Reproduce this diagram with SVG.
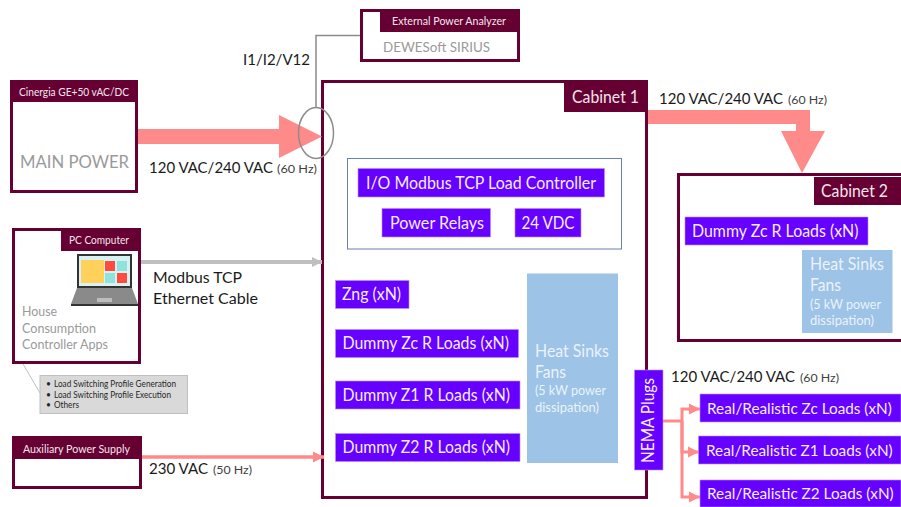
<svg xmlns="http://www.w3.org/2000/svg" width="901" height="507" viewBox="0 0 901 507">
<defs>
<marker id="pk" markerUnits="userSpaceOnUse" markerWidth="12" markerHeight="12" refX="11" refY="6" orient="auto"><path d="M0 0.500L11 6L0 11.500Z" fill="#ff8a8a"/></marker>
<marker id="gy" markerUnits="userSpaceOnUse" markerWidth="11" markerHeight="12" refX="10" refY="6" orient="auto"><path d="M0 1L10 6L0 11Z" fill="#bfbfbf"/></marker>
</defs>
<style>
text{font-family:Lato,"Liberation Sans",sans-serif}
.box{fill:#fff;stroke:#660033;stroke-width:3}
.hd{fill:#660033}
.ht{fill:#f2e6ec}
.p{fill:#6600ff;stroke:#b78cff;stroke-width:.6}
.pt{fill:#f4ecff;font-size:16.5px}
.rt{fill:#f4ecff;font-size:15.3px}
.b{fill:#1a1a1a;font-size:15.5px}
.s{fill:#404040;font-size:12px}
.g{fill:#9a9a9a}
.h{fill:#9dc3e6}
.ft{fill:#eaf2fa}
</style>
<rect width="901" height="507" fill="#fff"/>

<g id="cabinet1">
<rect class="box" x="322.500" y="81.500" width="324" height="416"/>
<rect class="hd" x="564" y="83" width="81" height="29"/>
<text class="ht" x="572" y="103" font-size="16.500" textLength="67" lengthAdjust="spacingAndGlyphs">Cabinet 1</text>
</g>
<g id="controller-frame"><rect x="347.500" y="158.500" width="274" height="90.500" fill="#fff" stroke="#6a80b0" stroke-width="1"/></g>
<g id="io-controller"><rect class="p" x="358" y="168.500" width="246.500" height="28.500"/><text class="pt" x="366" y="188.500" textLength="230" lengthAdjust="spacingAndGlyphs">I/O Modbus TCP Load Controller</text></g>
<g id="power-relays"><rect class="p" x="382" y="208.500" width="108.500" height="28.500"/><text class="pt" x="390" y="228.500" textLength="94" lengthAdjust="spacingAndGlyphs">Power Relays</text></g>
<g id="vdc24"><rect class="p" x="515" y="208.500" width="66" height="28.500"/><text class="pt" x="521.500" y="228.500" textLength="53" lengthAdjust="spacingAndGlyphs">24 VDC</text></g>
<g id="zng"><rect class="p" x="335.500" y="280.500" width="73.500" height="28"/><text class="pt" x="342" y="300" textLength="59" lengthAdjust="spacingAndGlyphs">Zng (xN)</text></g>
<g id="dummy-zc"><rect class="p" x="335.500" y="329.500" width="183" height="28"/><text class="pt" x="342.500" y="349" textLength="166.500" lengthAdjust="spacingAndGlyphs">Dummy Zc R Loads (xN)</text></g>
<g id="dummy-z1"><rect class="p" x="335.500" y="381" width="184.500" height="28"/><text class="pt" x="342.500" y="401" textLength="167.500" lengthAdjust="spacingAndGlyphs">Dummy Z1 R Loads (xN)</text></g>
<g id="dummy-z2"><rect class="p" x="335.500" y="433.500" width="184.500" height="28"/><text class="pt" x="342.500" y="453" textLength="167.500" lengthAdjust="spacingAndGlyphs">Dummy Z2 R Loads (xN)</text></g>
<g id="heat1"><rect class="h" x="527" y="273.500" width="91" height="189.500"/>
<text class="ft" x="535" y="357" font-size="16.500" textLength="74" lengthAdjust="spacingAndGlyphs">Heat Sinks</text><text class="ft" x="535" y="378" font-size="16.500" textLength="31" lengthAdjust="spacingAndGlyphs">Fans</text>
<text class="ft" x="535" y="395" font-size="12.500" textLength="71" lengthAdjust="spacingAndGlyphs">(5 kW power</text><text class="ft" x="535" y="412" font-size="12.500" textLength="64" lengthAdjust="spacingAndGlyphs">dissipation)</text></g>

<g id="cabinet2">
<rect class="box" x="678.500" y="174.500" width="225" height="166"/>
<rect class="hd" x="814" y="177" width="87" height="28"/>
<text class="ht" x="821" y="197" font-size="16.500" textLength="67" lengthAdjust="spacingAndGlyphs">Cabinet 2</text>
</g>
<g id="c2-dummy"><rect class="p" x="685" y="217" width="183" height="28"/><text class="pt" x="692" y="236.500" textLength="166.500" lengthAdjust="spacingAndGlyphs">Dummy Zc R Loads (xN)</text></g>
<g id="heat2"><rect class="h" x="802" y="250" width="90.500" height="83"/>
<text class="ft" x="810" y="270" font-size="16.500" textLength="74" lengthAdjust="spacingAndGlyphs">Heat Sinks</text><text class="ft" x="810" y="291" font-size="16.500" textLength="31" lengthAdjust="spacingAndGlyphs">Fans</text>
<text class="ft" x="810" y="309" font-size="12.500" textLength="71" lengthAdjust="spacingAndGlyphs">(5 kW power</text><text class="ft" x="810" y="325" font-size="12.500" textLength="64" lengthAdjust="spacingAndGlyphs">dissipation)</text></g>

<g id="connectors" fill="none">
<path d="M137 129H279V115L322 136.500L279 158V144H137Z" fill="#ff8a8a"/>
<path d="M648 110H810V131H825L802 173L781 131H796V124H648Z" fill="#ff8a8a"/>
<ellipse cx="316" cy="133" rx="17.500" ry="25.500" stroke="#8c8c8c" stroke-width="1.500"/>
<path d="M316 107V35.500H361" stroke="#8c8c8c" stroke-width="1.500"/>
<path d="M141 262H322" stroke="#bfbfbf" stroke-width="4" marker-end="url(#gy)"/>
<path d="M142 457H324" stroke="#ff8a8a" stroke-width="3.500" marker-end="url(#pk)"/>
<path d="M23 364L40 393" stroke="#bfbfbf" stroke-width="1"/>
<path d="M663 421H682" stroke="#ff8a8a" stroke-width="3"/>
<path d="M682 421V409H700" stroke="#ff8a8a" stroke-width="3" marker-end="url(#pk)"/>
<path d="M682 421V452H699" stroke="#ff8a8a" stroke-width="3" marker-end="url(#pk)"/>
<path d="M682 421V497H700" stroke="#ff8a8a" stroke-width="3" marker-end="url(#pk)"/>
</g>

<g id="main-power">
<rect class="box" x="11.500" y="81.500" width="125" height="110"/>
<rect class="hd" x="10" y="80" width="128" height="22"/>
<text class="ht" x="19" y="96" font-size="10.500" textLength="110" lengthAdjust="spacingAndGlyphs">Cinergia GE+50 vAC/DC</text>
<text class="g" x="20" y="168" font-size="18" textLength="109" lengthAdjust="spacingAndGlyphs">MAIN POWER</text>
</g>
<g id="power-analyzer">
<rect class="box" x="361.500" y="10.500" width="157" height="50"/>
<rect class="hd" x="380" y="10" width="139" height="22"/>
<text class="ht" x="392" y="25" font-size="10.500" textLength="114" lengthAdjust="spacingAndGlyphs">External Power Analyzer</text>
<text class="g" x="383" y="52" font-size="14" textLength="107" lengthAdjust="spacingAndGlyphs">DEWESoft SIRIUS</text>
</g>
<g id="pc-computer">
<rect class="box" x="13.500" y="229.500" width="126" height="133"/>
<rect class="hd" x="61" y="229" width="80" height="22"/>
<text class="ht" x="69" y="244" font-size="10.500" textLength="60" lengthAdjust="spacingAndGlyphs">PC Computer</text>
<path d="M77 254H132V288H77Z" fill="#333"/>
<path d="M79 256H130V286H79Z" fill="#d8f2f4"/>
<rect x="81" y="260" width="23" height="23" fill="#ffd05a"/>
<rect x="105" y="261" width="10" height="10" fill="#ff4a3d"/>
<rect x="117" y="261" width="10" height="10" fill="#8fe3dc"/>
<rect x="105" y="273" width="10" height="10" fill="#8fe3dc"/>
<rect x="117" y="273" width="10" height="10" fill="#ff4a3d"/>
<path d="M77 288H132L138 304H71Z" fill="#8a8a8a"/>
<rect x="97" y="298" width="15" height="4" fill="#bdbdbd"/>
<rect x="71" y="304" width="67" height="2" fill="#333"/>
<text class="g" x="22" y="316" font-size="12.500" textLength="35" lengthAdjust="spacingAndGlyphs">House</text>
<text class="g" x="22" y="333" font-size="12.500" textLength="74" lengthAdjust="spacingAndGlyphs">Consumption</text>
<text class="g" x="22" y="349" font-size="12.500" textLength="86" lengthAdjust="spacingAndGlyphs">Controller Apps</text>
</g>
<g id="profile-note">
<rect x="40" y="375.500" width="147.500" height="38" fill="#d9d9d9" stroke="#bfbfbf" stroke-width="1"/>
<g fill="#262626" font-size="8.500"><text x="46" y="387">•</text><text x="54" y="387" textLength="122" lengthAdjust="spacingAndGlyphs">Load Switching Profile Generation</text>
<text x="46" y="398">•</text><text x="54" y="398" textLength="117" lengthAdjust="spacingAndGlyphs">Load Switching Profile Execution</text>
<text x="46" y="408">•</text><text x="54" y="408" textLength="25" lengthAdjust="spacingAndGlyphs">Others</text></g>
</g>
<g id="aux-supply">
<rect class="box" x="13.500" y="437.500" width="127" height="50"/>
<rect class="hd" x="15" y="438" width="125" height="21"/>
<text class="ht" x="23" y="453" font-size="10.500" textLength="107" lengthAdjust="spacingAndGlyphs">Auxiliary Power Supply</text>
</g>
<g id="nema"><rect class="p" x="634.500" y="370" width="28.500" height="100"/><text class="pt" transform="translate(654 463) rotate(-90)" font-size="15" textLength="85" lengthAdjust="spacingAndGlyphs">NEMA Plugs</text></g>
<g id="real-zc"><rect class="p" x="700" y="394" width="201" height="28"/><text class="rt" x="707" y="414">Real/Realistic Zc Loads (xN)</text></g>
<g id="real-z1"><rect class="p" x="698.500" y="436" width="202.500" height="28"/><text class="rt" x="706" y="456">Real/Realistic Z1 Loads (xN)</text></g>
<g id="real-z2"><rect class="p" x="700" y="480" width="201" height="27"/><text class="rt" x="707" y="499">Real/Realistic Z2 Loads (xN)</text></g>

<g id="labels">
<text class="b" x="243" y="65" textLength="67" lengthAdjust="spacingAndGlyphs">I1/I2/V12</text>
<text class="b" x="149" y="173" textLength="124" lengthAdjust="spacingAndGlyphs">120 VAC/240 VAC</text><text class="s" x="277" y="173" textLength="40" lengthAdjust="spacingAndGlyphs">(60 Hz)</text>
<text class="b" x="659" y="104" textLength="124" lengthAdjust="spacingAndGlyphs">120 VAC/240 VAC</text><text class="s" x="788" y="104" textLength="39" lengthAdjust="spacingAndGlyphs">(60 Hz)</text>
<text class="b" x="671" y="382" textLength="124" lengthAdjust="spacingAndGlyphs">120 VAC/240 VAC</text><text class="s" x="800" y="382" textLength="39" lengthAdjust="spacingAndGlyphs">(60 Hz)</text>
<text class="b" x="153" y="283" textLength="89" lengthAdjust="spacingAndGlyphs">Modbus TCP</text>
<text class="b" x="153" y="304" textLength="105" lengthAdjust="spacingAndGlyphs">Ethernet Cable</text>
<text class="b" x="149" y="474" textLength="59" lengthAdjust="spacingAndGlyphs">230 VAC</text><text class="s" x="213" y="474" textLength="39" lengthAdjust="spacingAndGlyphs">(50 Hz)</text>
</g>
</svg>
